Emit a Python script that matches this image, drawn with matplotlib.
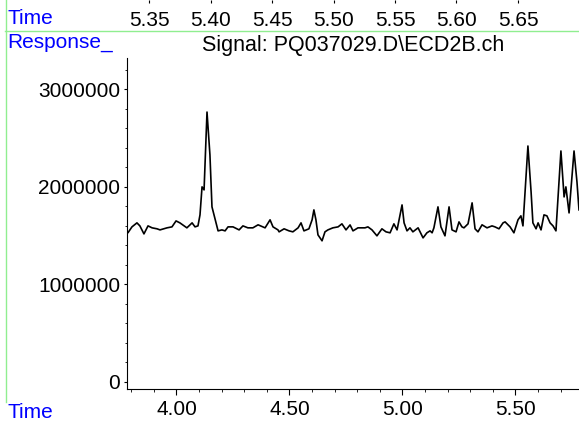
import matplotlib
matplotlib.use('Agg')
import matplotlib.pyplot as plt
from matplotlib.lines import Line2D
from matplotlib.ticker import MultipleLocator, FormatStrFormatter

plt.rcParams['font.family'] = ['Liberation Sans', 'DejaVu Sans']
plt.rcParams['font.size'] = 15

# chromatogram trace (time in min, response in counts)
time = [3.781, 3.785, 3.803, 3.825, 3.838, 3.856, 3.874, 3.892, 3.914, 3.927,
        3.958, 3.980, 3.998, 4.015, 4.046, 4.069, 4.082, 4.095, 4.104, 4.113,
        4.122, 4.135, 4.148, 4.157, 4.166, 4.184, 4.201, 4.215, 4.228, 4.250,
        4.277, 4.294, 4.316, 4.338, 4.361, 4.392, 4.414, 4.427, 4.449, 4.454,
        4.476, 4.498, 4.515, 4.538, 4.551, 4.564, 4.586, 4.600, 4.608, 4.617,
        4.626, 4.644, 4.657, 4.670, 4.692, 4.715, 4.732, 4.750, 4.768, 4.781,
        4.803, 4.834, 4.847, 4.865, 4.887, 4.909, 4.927, 4.945, 4.962, 4.976,
        4.998, 5.007, 5.020, 5.033, 5.046, 5.069, 5.091, 5.108, 5.122, 5.131,
        5.139, 5.157, 5.170, 5.188, 5.206, 5.219, 5.237, 5.250, 5.263, 5.272,
        5.290, 5.308, 5.321, 5.334, 5.352, 5.374, 5.396, 5.409, 5.427, 5.445,
        5.454, 5.476, 5.493, 5.511, 5.524, 5.533, 5.555, 5.569, 5.577, 5.591,
        5.600, 5.613, 5.626, 5.639, 5.653, 5.666, 5.679, 5.701, 5.715, 5.723,
        5.737, 5.759, 5.772, 5.781]
response = [1536000, 1526000, 1587000, 1628000, 1597000, 1515000, 1597000, 1577000, 1567000, 1556000,
            1577000, 1587000, 1648000, 1628000, 1577000, 1628000, 1587000, 1597000, 1710000, 1997000,
            1966000, 2764000, 2324000, 1792000, 1710000, 1546000, 1556000, 1546000, 1587000, 1587000,
            1556000, 1597000, 1577000, 1577000, 1608000, 1577000, 1659000, 1587000, 1556000, 1536000,
            1567000, 1546000, 1536000, 1577000, 1628000, 1546000, 1567000, 1659000, 1761000, 1659000,
            1505000, 1444000, 1536000, 1556000, 1577000, 1587000, 1618000, 1556000, 1607000, 1546000,
            1577000, 1577000, 1587000, 1556000, 1495000, 1567000, 1536000, 1526000, 1618000, 1556000,
            1812000, 1628000, 1546000, 1577000, 1536000, 1577000, 1474000, 1526000, 1546000, 1526000,
            1577000, 1792000, 1587000, 1495000, 1792000, 1556000, 1536000, 1638000, 1587000, 1577000,
            1618000, 1833000, 1567000, 1536000, 1608000, 1577000, 1597000, 1587000, 1567000, 1628000,
            1638000, 1587000, 1526000, 1659000, 1700000, 1597000, 2416000, 1945000, 1628000, 1567000,
            1628000, 1556000, 1710000, 1700000, 1628000, 1597000, 1546000, 2365000, 1894000, 1997000,
            1730000, 2365000, 2048000, 1761000]

top_ticks = [5.35, 5.40, 5.45, 5.50, 5.55, 5.60, 5.65]
title = 'Signal: PQ037029.D\\ECD2B.ch'

W, H = 579, 424
fig = plt.figure(figsize=(W / 100, H / 100), dpi=100)

# main plot
ax = fig.add_axes([127 / W, 1 - 389 / H, (W - 127) / W, (389 - 58) / H])
ax.plot(time, response, color='black', lw=1.2)
ax.set_xlim(3.781, 5.781)
ax.set_ylim(-75000, 3318000)
ax.spines['top'].set_visible(False)
ax.spines['right'].set_visible(False)
ax.xaxis.set_major_locator(MultipleLocator(0.5))
ax.xaxis.set_minor_locator(MultipleLocator(0.1))
ax.xaxis.set_major_formatter(FormatStrFormatter('%.2f'))
ax.yaxis.set_major_locator(MultipleLocator(1000000))
ax.yaxis.set_minor_locator(MultipleLocator(200000))
ax.yaxis.set_major_formatter(FormatStrFormatter('%d'))
ax.tick_params(axis='x', which='major', length=4, pad=4)
ax.tick_params(axis='x', which='minor', length=2.5)
ax.tick_params(axis='y', which='major', length=2, pad=3)
ax.tick_params(axis='y', which='minor', length=1.3)
ax.set_title(title, pad=5, fontsize=15.5)

# extra time scale at the top
ax_top = fig.add_axes([127 / W, 1 - 11 / H, (W - 127) / W, 11 / H])
ax_top.patch.set_visible(False)
ax_top.set_xlim(5.3321, 5.6996)
ax_top.set_xticks(top_ticks)
ax_top.xaxis.set_major_formatter(FormatStrFormatter('%.2f'))
ax_top.set_yticks([])
for s in ax_top.spines.values():
    s.set_visible(False)
ax_top.tick_params(axis='x', direction='in', top=True, bottom=False,
                   labeltop=False, labelbottom=True, length=2, pad=0)

# green frame lines and blue labels
green = '#90ee90'
fig.add_artist(Line2D([5 / W, 1], [1 - 31 / H, 1 - 31 / H], transform=fig.transFigure, color=green, lw=1))
fig.add_artist(Line2D([5.5 / W, 5.5 / W], [1 - 402 / H, 1], transform=fig.transFigure, color=green, lw=1))
fig.text(7 / W, 1 - 19 / H, 'Time', color='blue', ha='left', va='center')
fig.text(7 / W, 1 - 43 / H, 'Response_', color='blue', ha='left', va='center')
fig.text(7 / W, 1 - 413 / H, 'Time', color='blue', ha='left', va='center')

fig.savefig('out.png', dpi=100)
